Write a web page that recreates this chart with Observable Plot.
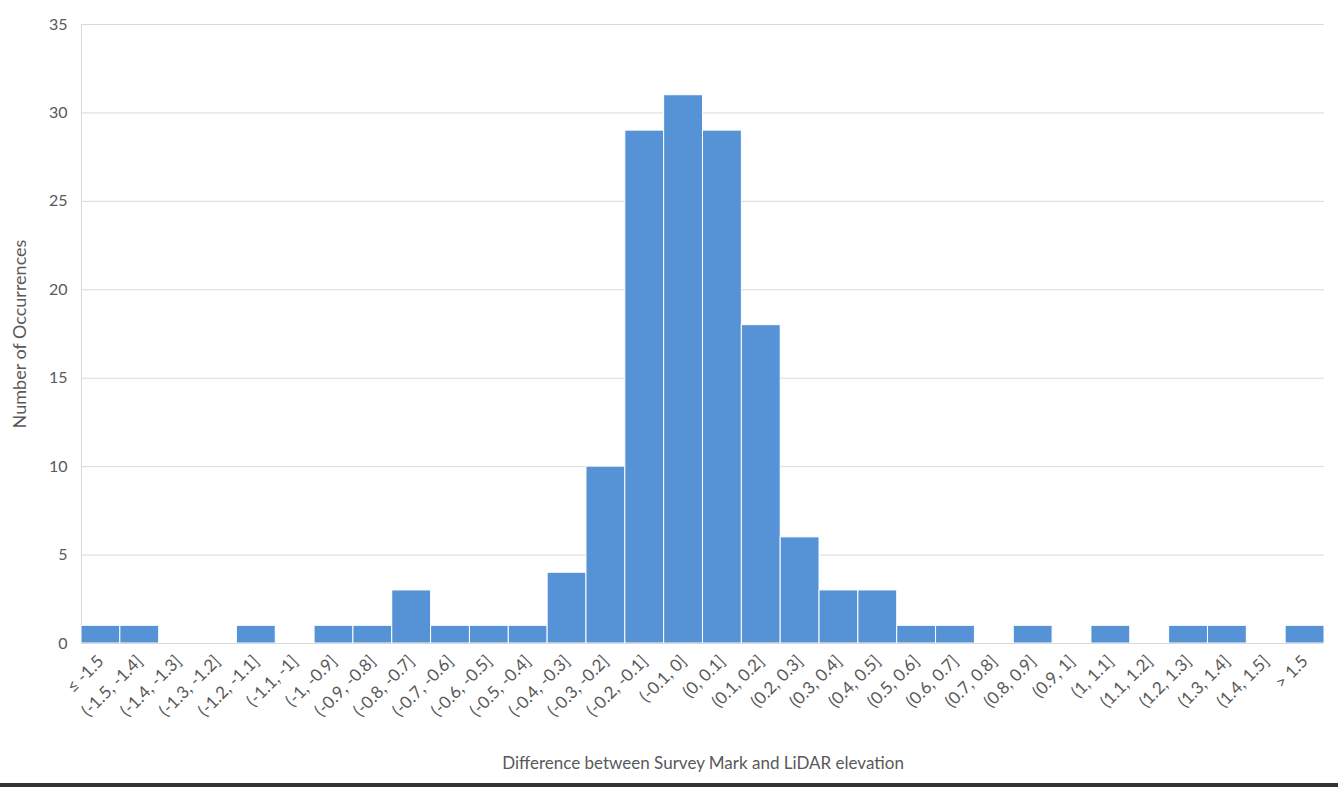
<!DOCTYPE html>
<html>
<head>
<meta charset="utf-8">
<script src="https://cdn.jsdelivr.net/npm/d3@7"></script>
<script src="https://cdn.jsdelivr.net/npm/@observablehq/plot@0.6"></script>
<style>
  body { margin: 0; background: white; }
  #chart { width: 1338px; height: 783px; }
  #bottom { width: 1338px; height: 4px; background: #333; }
</style>
</head>
<body>
<div id="chart"></div>
<div id="bottom"></div>
<script>
const categories = [
  "≤ -1.5", "(-1.5, -1.4]", "(-1.4, -1.3]", "(-1.3, -1.2]", "(-1.2, -1.1]", "(-1.1, -1]",
  "(-1, -0.9]", "(-0.9, -0.8]", "(-0.8, -0.7]", "(-0.7, -0.6]", "(-0.6, -0.5]", "(-0.5, -0.4]",
  "(-0.4, -0.3]", "(-0.3, -0.2]", "(-0.2, -0.1]", "(-0.1, 0]", "(0, 0.1]", "(0.1, 0.2]",
  "(0.2, 0.3]", "(0.3, 0.4]", "(0.4, 0.5]", "(0.5, 0.6]", "(0.6, 0.7]", "(0.7, 0.8]",
  "(0.8, 0.9]", "(0.9, 1]", "(1, 1.1]", "(1.1, 1.2]", "(1.2, 1.3]", "(1.3, 1.4]",
  "(1.4, 1.5]", "> 1.5"
];
const counts = [
  1, 1, 0, 0, 1, 0,
  1, 1, 3, 1, 1, 1,
  4, 10, 29, 31, 29, 18,
  6, 3, 3, 1, 1, 0,
  1, 0, 1, 0, 1, 1,
  0, 1
];
const yTicks = [0, 5, 10, 15, 20, 25, 30, 35];
const xTitle = "Difference between Survey Mark and LiDAR elevation";
const yTitle = "Number of Occurrences";

const data = categories.map((c, i) => ({bin: c, count: counts[i]}));

const chart = Plot.plot({
  width: 1338,
  height: 783,
  marginLeft: 81,
  marginRight: 14,
  marginTop: 24,
  marginBottom: 140,
  style: {fontFamily: "Lato, 'Open Sans', sans-serif", fontSize: "17px", color: "#595959", background: "white"},
  x: {domain: categories, padding: 0, round: false},
  y: {domain: [0, 35]},
  marks: [
    Plot.gridY(yTicks, {stroke: "#d9d9d9", strokeOpacity: 1}),
    Plot.frame({anchor: "left", stroke: "#d9d9d9"}),
    Plot.barY(data, {x: "bin", y: "count", fill: "#5592d6", stroke: "white", strokeWidth: 1}),
    Plot.ruleY([0], {stroke: "#d9d9d9"}),
    Plot.axisY({ticks: yTicks, tickSize: 0, tickPadding: 14, fontSize: 16, label: null}),
    Plot.axisY({ticks: [], tickSize: 0, fontSize: 18, label: yTitle, labelAnchor: "center", labelOffset: 68, labelArrow: "none"}),
    Plot.axisX({tickSize: 0, tickRotate: -45, tickPadding: 15, label: xTitle, labelAnchor: "center", labelOffset: 125, labelArrow: "none"})
  ]
});
document.getElementById("chart").appendChild(chart);
</script>
</body>
</html>
